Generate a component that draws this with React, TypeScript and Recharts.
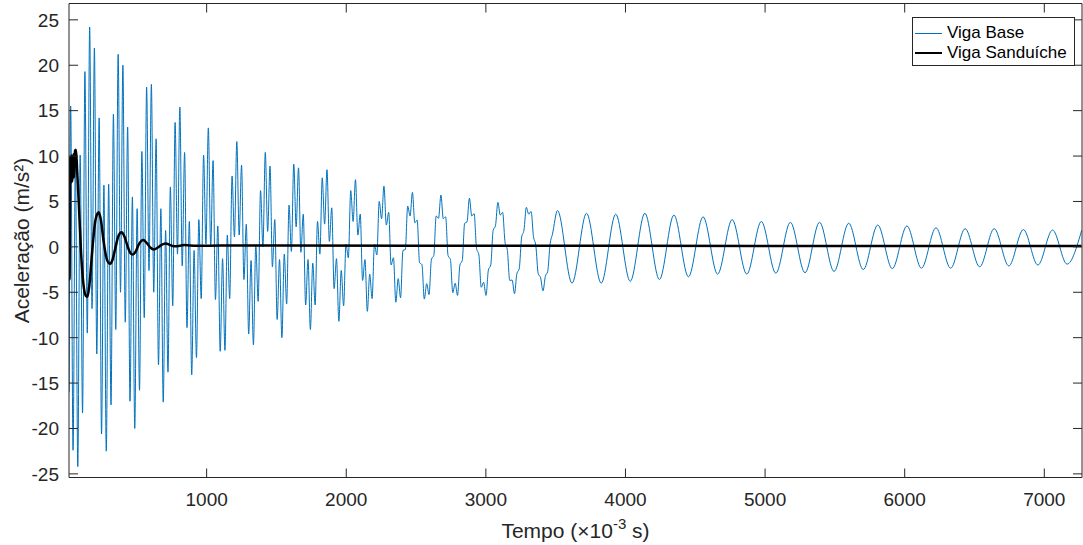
import React from "react";
import { LineChart, Line, XAxis, YAxis, Legend, ReferenceLine, Label } from "recharts";

// ---- axis settings ----
const xTicks = [1000, 2000, 3000, 4000, 5000, 6000, 7000];
const yTicks = [-25, -20, -15, -10, -5, 0, 5, 10, 15, 20, 25];
const X_MIN = 14;
const X_MAX = 7270;
const Y_MIN = -25.4;
const Y_MAX = 26.8;

// ---- Viga Base: [tempo (ms), aceleração (m/s²)] ----
const baseBurst: [number, number][] = [
  [15, -16.0],
  [26, 15.5], [43, -22.4], [60, 9.9], [77, -24.2], [94, 10.1], [111, -18.3], [128, 19.3], [145, -9.5], [162, 24.2], [179, -6.8], [196, 21.9], [213, -11.8],
  [230, 14.2], [247, -20.6], [264, 6.8], [281, -22.5], [298, 6.9], [315, -17.4], [332, 14.6], [349, -9.1], [366, 21.2], [383, -5.0], [400, 20.0], [417, -8.3],
  [434, 13.2], [451, -17.0], [468, 5.5], [485, -20.0], [502, 4.2], [519, -15.8], [536, 10.5], [553, -7.8], [570, 17.6], [587, -2.6], [604, 17.9], [621, -5.0],
  [638, 11.9], [655, -13.0], [672, 4.2], [689, -17.1], [706, 1.8], [723, -13.8], [740, 6.6], [757, -6.5], [774, 13.7], [791, -0.8], [808, 15.4], [825, -2.1],
  [842, 10.4], [859, -8.9], [876, 2.8], [893, -14.1], [910, -0.4], [927, -12.2], [944, 3.0], [961, -5.7], [978, 10.1], [995, 0.3], [1012, 13.1], [1029, 0.0],
];
const baseBeat: [number, number][] = [
  [1046, 9.5], [1063, -5.8], [1080, 2.3], [1097, -11.5], [1114, -1.3], [1131, -11.4], [1148, 1.3], [1165, -5.7], [1182, 7.8], [1199, 1.1], [1216, 11.6], [1233, 1.3],
  [1250, 9.0], [1267, -3.6], [1284, 2.5], [1301, -9.6], [1318, -1.5], [1335, -10.8], [1352, 0.2], [1369, -6.0], [1386, 6.2], [1403, 0.0], [1420, 10.4], [1437, 1.7],
  [1454, 8.9], [1471, -2.2], [1488, 3.0], [1505, -8.0], [1522, -1.4], [1539, -10.0], [1556, -0.8], [1573, -6.3], [1590, 4.6], [1607, -0.5], [1624, 9.1], [1641, 2.2],
  [1658, 8.7], [1675, -0.6], [1692, 3.6], [1709, -6.4], [1726, -1.4], [1743, -9.1], [1760, -1.8], [1777, -6.4], [1794, 2.8], [1811, -0.8], [1828, 7.6], [1845, 2.5],
  [1862, 8.5], [1879, 0.6], [1896, 4.3], [1913, -4.6], [1930, -1.3], [1947, -8.2], [1964, -2.6], [1981, -6.5], [1998, 0.3], [2015, -1.2], [2032, 6.2], [2049, 2.8],
  [2066, 7.4], [2083, 1.3], [2100, 3.6], [2117, -3.7], [2134, -1.4], [2151, -7.1], [2168, -3.0], [2185, -5.7], [2202, 0.3], [2219, -0.9], [2236, 5.0], [2253, 3.1],
  [2270, 6.7], [2287, 2.4], [2304, 3.8], [2321, -2.0], [2338, -1.2], [2355, -6.1], [2372, -3.5], [2389, -5.6], [2406, -0.4], [2423, -0.3], [2440, 4.5], [2457, 3.4],
];
const baseRipple: [number, number][] = [
  [2474, 6.0], [2491, 2.65], [2508, 2.95], [2525, -1.75], [2542, -1.95], [2559, -5.75], [2576, -4.05], [2593, -5.25], [2610, -1.35], [2627, -0.95], [2644, 3.4], [2661, 3.15],
  [2678, 5.7], [2695, 3.1], [2712, 3.3], [2729, -0.95], [2746, -1.4], [2763, -5.05], [2780, -4.0], [2797, -5.35], [2814, -2.0], [2831, -1.5], [2848, 2.6], [2865, 2.75],
  [2882, 5.35], [2899, 3.4], [2916, 3.65], [2933, -0.15], [2950, -0.9], [2967, -4.45], [2984, -3.9], [3001, -5.35], [3018, -2.55], [3035, -2.0], [3052, 1.8], [3069, 2.35],
  [3086, 4.9], [3103, 3.5], [3120, 3.8], [3137, 0.55], [3154, -0.4], [3171, -3.7], [3188, -3.65], [3205, -5.15], [3222, -2.95], [3239, -2.4], [3256, 1.05], [3273, 1.85],
  [3290, 4.35], [3307, 3.6], [3324, 3.9], [3341, 1.15], [3358, 0.1], [3375, -2.95], [3392, -3.4], [3409, -4.85], [3426, -3.25], [3443, -2.7], [3460, 0.3], [3477, 1.4],
];
const baseTail: [number, number][] = [
  [3513, 4.0], [3617, -4.0], [3721, 3.7], [3826, -4.0], [3930, 3.6], [4034, -3.8], [4139, 3.7], [4243, -3.6], [4347, 3.5], [4451, -3.3],
  [4556, 3.3], [4660, -3.0], [4764, 3.0], [4869, -3.0], [4973, 2.8], [5077, -2.9], [5181, 2.7], [5286, -2.85], [5390, 2.7], [5494, -2.7],
  [5599, 2.6], [5703, -2.5], [5807, 2.4], [5911, -2.4], [6016, 2.3], [6120, -2.35], [6224, 2.1], [6329, -2.35], [6433, 2.0], [6537, -2.2],
  [6641, 2.0], [6746, -2.1], [6850, 1.9], [6954, -2.0], [7059, 1.85], [7163, -1.9], [7267, 1.8],
];

// ---- Viga Sanduíche ----
const sandwich: [number, number][] = [
  [15, 6.3], [18, -3.6], [22, 9.9], [27, 7.0], [32, 10.1], [38, 7.2], [44, 10.2], [50, 7.6], [57, 10.6], [64, 10.7], [72, 8.5],
  [85, 4.5], [100, -0.5], [118, -4.2], [135, -5.4], [146, -5.5], [160, -4.2], [180, -0.5], [200, 2.6], [215, 3.6], [227, 3.8],
  [242, 3.0], [262, 0.6], [282, -1.2], [300, -1.8], [310, -1.85], [324, -1.5], [345, -0.2], [368, 1.2], [391, 1.6], [412, 1.1],
  [435, 0.0], [455, -0.7], [470, -0.85], [492, -0.5], [515, 0.3], [546, 0.75], [570, 0.45], [598, -0.1], [623, -0.28], [648, -0.1],
  [675, 0.2], [706, 0.38], [735, 0.22], [765, 0.08], [800, 0.1], [840, 0.2], [880, 0.15], [940, 0.12], [1100, 0.15], [1500, 0.15],
  [2500, 0.12], [4000, 0.12], [5500, 0.1], [7267, 0.1],
];

const toRows = (pts: [number, number][]) => pts.map(([t, v]) => ({ t, v }));
const baseData = toRows([...baseBurst, ...baseBeat, ...baseRipple, ...baseTail]);
const sandwichData = toRows(sandwich);

// ---- layout ----
const W = 1083;
const H = 545;
const M = { top: 3.5, right: 1, bottom: 27.5, left: 0 };
const Y_AXIS_W = 69;
const X_AXIS_H = 40;
const PLOT_LEFT = M.left + Y_AXIS_W;
const PLOT_RIGHT = W - M.right;
const PLOT_TOP = M.top;
const PLOT_BOTTOM = H - M.bottom - X_AXIS_H;
const TICK_LEN = 9;
const AXIS_COLOR = "#262626";
const FONT = "'Liberation Sans', Arial, sans-serif";
const BLUE = "#0072BD";
const TICK_FONT = 19;
const LABEL_FONT = 21;

const XTick = (props: any) => {
  const { x, payload } = props;
  return (
    <g>
      <line x1={x} x2={x} y1={PLOT_BOTTOM} y2={PLOT_BOTTOM - TICK_LEN} stroke={AXIS_COLOR} strokeWidth={1} />
      <line x1={x} x2={x} y1={PLOT_TOP} y2={PLOT_TOP + TICK_LEN} stroke={AXIS_COLOR} strokeWidth={1} />
      <text x={x} y={PLOT_BOTTOM + 28} textAnchor="middle" fontSize={TICK_FONT} fontFamily={FONT} fill={AXIS_COLOR}>
        {payload.value}
      </text>
    </g>
  );
};

const YTick = (props: any) => {
  const { y, payload } = props;
  return (
    <g>
      <line x1={PLOT_LEFT} x2={PLOT_LEFT + TICK_LEN} y1={y} y2={y} stroke={AXIS_COLOR} strokeWidth={1} />
      <line x1={PLOT_RIGHT} x2={PLOT_RIGHT - TICK_LEN} y1={y} y2={y} stroke={AXIS_COLOR} strokeWidth={1} />
      <text x={PLOT_LEFT - 10} y={y} dy="0.36em" textAnchor="end" fontSize={TICK_FONT} fontFamily={FONT} fill={AXIS_COLOR}>
        {payload.value}
      </text>
    </g>
  );
};

const XLabel = () => (
  <text x={(PLOT_LEFT + PLOT_RIGHT) / 2} y={538} textAnchor="middle" fontSize={LABEL_FONT} fontFamily={FONT} fill={AXIS_COLOR}>
    <tspan>Tempo (</tspan>
    <tspan>×10</tspan>
    <tspan dy={-9} fontSize={15}>-3</tspan>
    <tspan dy={9}> s)</tspan>
  </text>
);

const YLabel = () => {
  const cx = 21;
  const cy = (PLOT_TOP + PLOT_BOTTOM) / 2;
  return (
    <text x={cx} y={cy} transform={`rotate(-90, ${cx}, ${cy})`} textAnchor="middle" dominantBaseline="central" fontSize={LABEL_FONT} fontFamily={FONT} fill={AXIS_COLOR}>
      Aceleração (m/s²)
    </text>
  );
};

const LegendBox = () => (
  <div
    style={{
      width: 163,
      height: 49,
      border: `1px solid ${AXIS_COLOR}`,
      background: "#fff",
      boxSizing: "border-box",
      fontFamily: FONT,
      fontSize: 17,
      color: "#000",
      padding: "5px 0 0 2px",
      lineHeight: "20px",
    }}
  >
    <div style={{ display: "flex", alignItems: "center", height: 20 }}>
      <div style={{ width: 27, height: 0, borderTop: `1px solid ${BLUE}`, marginRight: 5 }} />
      <span>Viga Base</span>
    </div>
    <div style={{ display: "flex", alignItems: "center", height: 20 }}>
      <div style={{ width: 27, height: 0, borderTop: "2.5px solid #000", marginRight: 5 }} />
      <span>Viga Sanduíche</span>
    </div>
  </div>
);

export default function App() {
  return (
    <div style={{ position: "absolute", left: 0, top: 0, width: W, height: H, background: "#fff" }}>
      <LineChart width={W} height={H} margin={M}>
        <XAxis
          dataKey="t"
          type="number"
          domain={[X_MIN, X_MAX]}
          ticks={xTicks}
          allowDataOverflow
          height={X_AXIS_H}
          tickLine={false}
          axisLine={{ stroke: AXIS_COLOR, strokeWidth: 1 }}
          tick={<XTick />}
          interval={0}
        >
          <Label content={<XLabel />} />
        </XAxis>
        <YAxis
          type="number"
          domain={[Y_MIN, Y_MAX]}
          ticks={yTicks}
          allowDataOverflow
          width={Y_AXIS_W}
          tickLine={false}
          axisLine={{ stroke: AXIS_COLOR, strokeWidth: 1 }}
          tick={<YTick />}
          interval={0}
        >
          <Label content={<YLabel />} />
        </YAxis>
        <Line
          data={baseData}
          dataKey="v"
          name="Viga Base"
          type="monotone"
          stroke={BLUE}
          strokeWidth={1}
          dot={false}
          isAnimationActive={false}
        />
        <Line
          data={sandwichData}
          dataKey="v"
          name="Viga Sanduíche"
          type="monotone"
          stroke="#000"
          strokeWidth={2.5}
          dot={false}
          isAnimationActive={false}
        />
        <ReferenceLine y={Y_MAX} stroke={AXIS_COLOR} strokeWidth={1} />
        <ReferenceLine x={X_MAX} stroke={AXIS_COLOR} strokeWidth={1} />
        <Legend
          layout="vertical"
          align="center"
          verticalAlign="middle"
          content={<LegendBox />}
          wrapperStyle={{ left: 912, top: 17, width: 163, height: 49, margin: 0 }}
        />
      </LineChart>
    </div>
  );
}
